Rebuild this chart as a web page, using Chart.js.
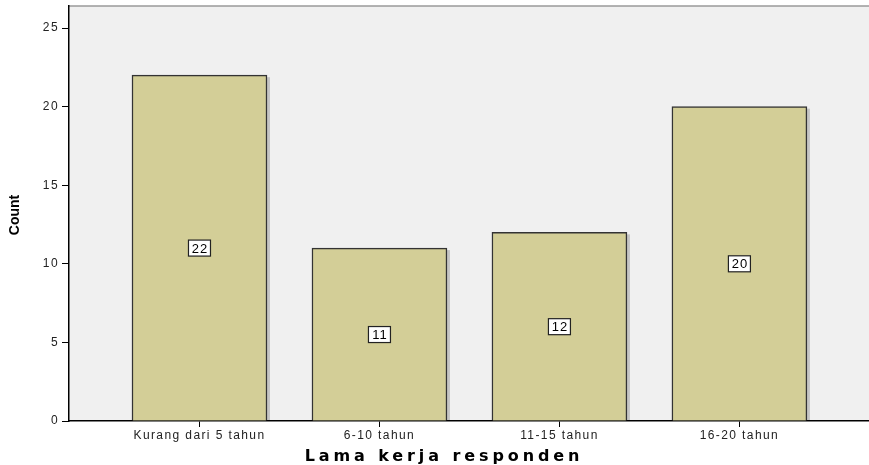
<!DOCTYPE html>
<html>
<head>
<meta charset="utf-8">
<script src="https://cdn.jsdelivr.net/npm/chart.js@4/dist/chart.umd.min.js"></script>
<style>
  html, body { margin: 0; padding: 0; background: #fff; }
  canvas { display: block; }
</style>
</head>
<body>
<canvas id="barChart" width="869" height="465"></canvas>
<script>
// data
const categories = ['Kurang dari 5 tahun', '6-10 tahun', '11-15 tahun', '16-20 tahun'];
const counts = [22, 11, 12, 20];
const yTicks = [0, 5, 10, 15, 20, 25];
const xTitle = 'Lama kerja responden';
const yTitle = 'Count';

const FONT = '"Liberation Sans", Arial, sans-serif';

// plot background, top frame line and axis titles
const frame = {
  id: 'frame',
  beforeDraw(chart) {
    const { ctx, chartArea: a } = chart;
    ctx.save();
    ctx.fillStyle = '#f0f0f0';
    ctx.fillRect(a.left, a.top, a.right - a.left, a.bottom - a.top);
    ctx.strokeStyle = '#9a9a9a';
    ctx.lineWidth = 1.5;
    ctx.beginPath();
    ctx.moveTo(a.left, a.top);
    ctx.lineTo(a.right, a.top);
    ctx.stroke();
    ctx.restore();
    // spaced-out lettering like the SPSS output
    ctx.letterSpacing = '1.4px';
  },
  beforeDatasetsDraw(chart) {
    // soft drop shadow on the right edge of each bar
    const { ctx } = chart;
    ctx.save();
    ctx.fillStyle = 'rgba(0,0,0,0.18)';
    chart.getDatasetMeta(0).data.forEach((bar) => {
      const half = bar.width / 2;
      ctx.fillRect(bar.x + half, bar.y + 2, 3, bar.base - bar.y - 2);
    });
    ctx.restore();
  },
  afterDraw(chart) {
    const { ctx } = chart;
    ctx.save();
    ctx.fillStyle = '#000';
    ctx.textAlign = 'center';
    ctx.textBaseline = 'middle';
    ctx.letterSpacing = '3.9px';
    ctx.font = 'bold 16px "DejaVu Sans", ' + FONT;
    ctx.fillText(xTitle, 444, 457);
    ctx.translate(15, 215);
    ctx.rotate(-Math.PI / 2);
    ctx.letterSpacing = '0px';
    ctx.font = 'bold 14px "Liberation Sans Narrow", ' + FONT;
    ctx.fillText(yTitle, 0, 0);
    ctx.restore();
  }
};

// boxed count labels in the middle of each bar
const boxLabels = {
  id: 'boxLabels',
  afterDatasetsDraw(chart) {
    const { ctx, scales: { x, y } } = chart;
    ctx.save();
    ctx.letterSpacing = '1px';
    ctx.font = '13px ' + FONT;
    ctx.textAlign = 'center';
    ctx.textBaseline = 'middle';
    counts.forEach((v, i) => {
      const cx = x.getPixelForValue(i);
      const cy = y.getPixelForValue(v / 2);
      const w = 22, h = 16;
      ctx.fillStyle = '#fff';
      ctx.fillRect(cx - w / 2, cy - h / 2, w, h);
      ctx.strokeStyle = '#222';
      ctx.lineWidth = 1.2;
      ctx.strokeRect(cx - w / 2, cy - h / 2, w, h);
      ctx.fillStyle = '#000';
      ctx.fillText(String(v), cx + 0.5, cy + 1);
    });
    ctx.restore();
  }
};

new Chart(document.getElementById('barChart'), {
  type: 'bar',
  data: {
    datasets: [{
      data: counts.map((v, i) => ({ x: i, y: v })),
      backgroundColor: '#d3ce97',
      borderColor: '#333',
      borderWidth: 1.5,
      borderSkipped: 'bottom',
      barThickness: 135,
    }],
  },
  options: {
    responsive: false,
    animation: false,
    layout: { padding: { top: 6, right: 0, left: 0, bottom: 0 } },
    plugins: { legend: { display: false }, tooltip: { enabled: false } },
    scales: {
      x: {
        type: 'linear',
        offset: false,
        min: -0.725,
        max: 3.72,
        afterFit: (s) => { s.height = 44; },
        afterBuildTicks: (s) => { s.ticks = categories.map((_, i) => ({ value: i })); },
        border: { color: '#000', width: 1.5 },
        grid: { offset: false, drawOnChartArea: false, drawTicks: true, tickLength: 6, color: '#000' },
        ticks: {
          callback: (v) => categories[v],
          color: '#222',
          font: { family: FONT, size: 12 },
          padding: 1,
          maxRotation: 0,
          autoSkip: false,
        },
      },
      y: {
        min: 0,
        max: 26.4,
        afterFit: (s) => { s.width = 69; s.paddingTop = 0; s.paddingBottom = 0; },
        afterBuildTicks: (s) => { s.ticks = yTicks.map((v) => ({ value: v })); },
        border: { color: '#000', width: 1.5 },
        grid: { drawOnChartArea: false, drawTicks: true, tickLength: 7, color: '#000' },
        ticks: {
          color: '#222',
          font: { family: FONT, size: 12 },
          padding: 3,
        },
      },
    },
  },
  plugins: [frame, boxLabels],
});
</script>
</body>
</html>
